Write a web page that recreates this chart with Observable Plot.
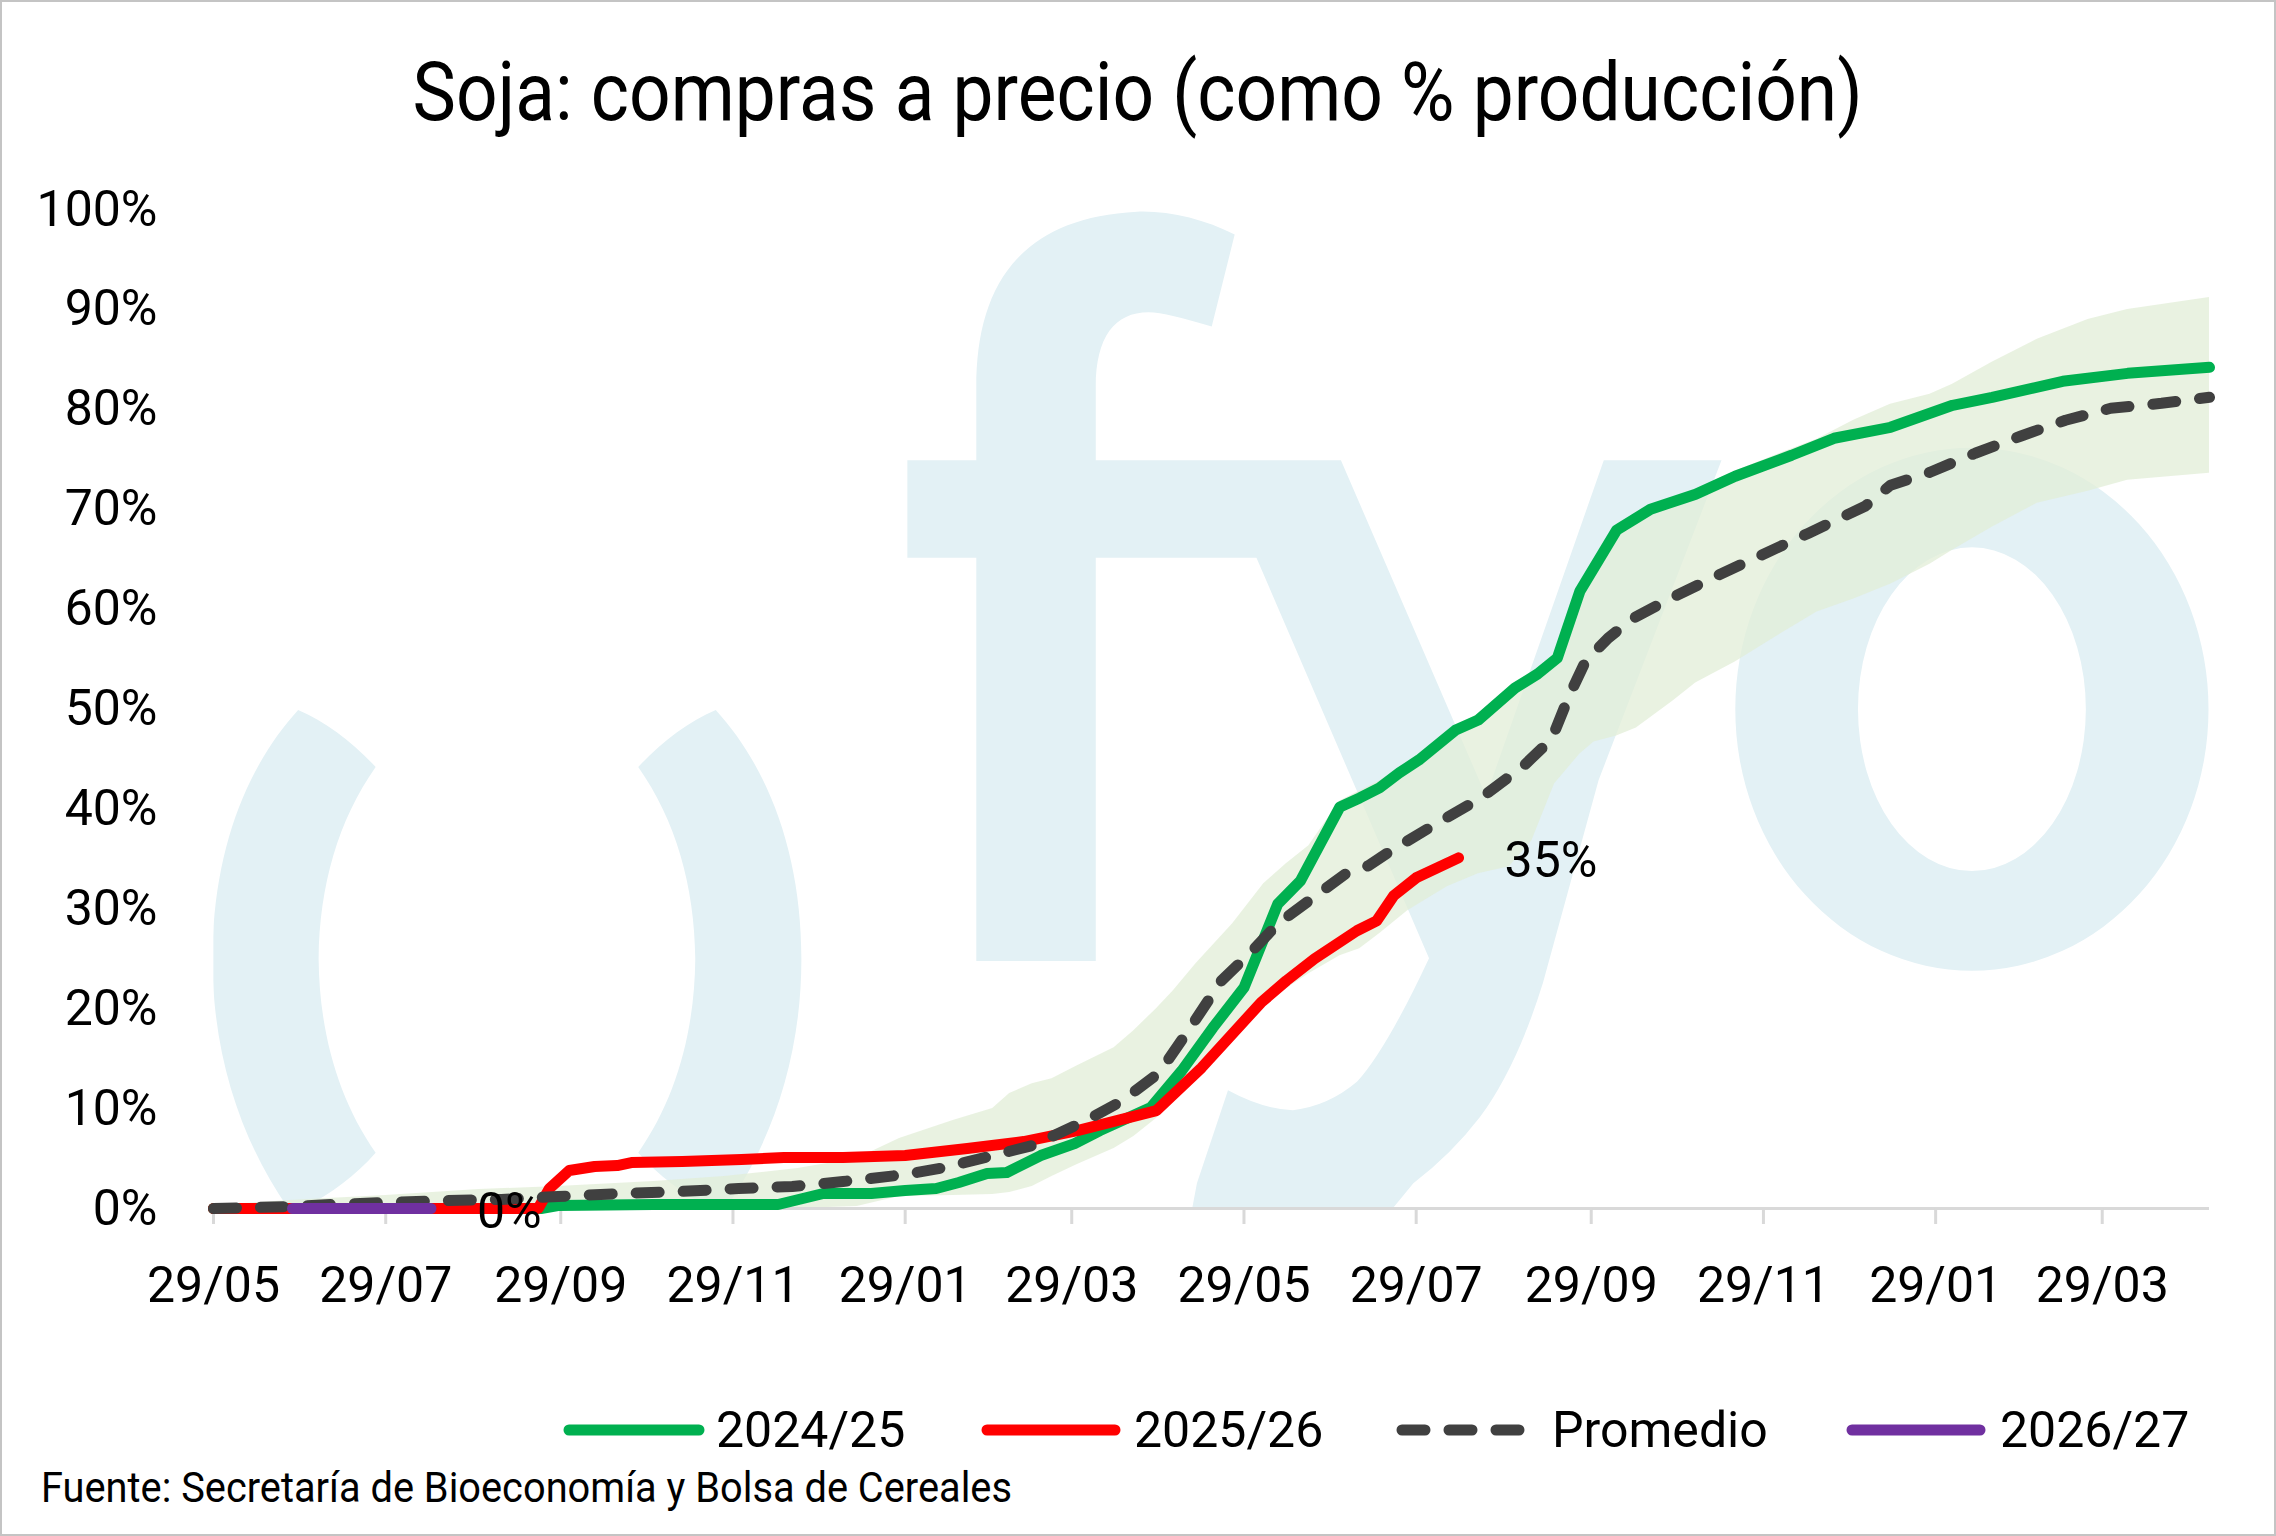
<!DOCTYPE html>
<html><head><meta charset="utf-8">
<script src="https://cdn.jsdelivr.net/npm/d3@7"></script>
<script src="https://cdn.jsdelivr.net/npm/@observablehq/plot@0.6"></script>
<style>
html,body{margin:0;padding:0;background:#fff;}
#frame{position:relative;width:2276px;height:1536px;overflow:hidden;background:#fff;font-family:Roboto,sans-serif;color:#000;}
#border{position:absolute;left:0;top:0;width:2276px;height:1536px;box-sizing:border-box;border:2px solid #c4c4c4;pointer-events:none;}
#wm{position:absolute;left:0;top:0;width:2276px;height:1536px;}
#title{position:absolute;left:0;top:51px;width:2276px;text-align:center;font-size:82px;line-height:82px;white-space:nowrap;}
#title span{display:inline-block;transform-origin:center center;}
#chart{position:absolute;left:0;top:150px;}
#legend{position:absolute;left:0;top:1400px;width:2276px;height:60px;}
.item{position:absolute;top:0;height:60px;display:flex;align-items:center;font-size:50px;line-height:60px;white-space:nowrap;}
.item svg{display:block;}
#caption{position:absolute;left:41px;top:1466px;font-size:43px;line-height:43px;white-space:nowrap;transform-origin:left center;}
</style></head><body>
<div id="frame">
  <svg id="wm" viewBox="0 0 1568 1058" preserveAspectRatio="none">
    <defs><clipPath id="pa"><rect x="147" y="0" width="1375" height="832"/></clipPath></defs>
    <g clip-path="url(#pa)" fill="#e3f1f5">
      <path d="M205.4,489 C224,497 243,511 258.8,528.3 C233,565 220,610 219.5,660.5 C220,711 233,757 258.8,794 C243,812 224,825 201.2,836 C168,790 146.4,730 146.4,660.5 C146.4,590 168,530 205.4,489 Z"/>
      <path d="M493.1,489 C474.5,497 455.5,511 439.7,528.3 C465.5,565 478.5,610 479,660.5 C478.5,711 465.5,757 439.7,794 C455.5,812 474.5,825 497.3,836 C530.5,790 552.1,730 552.1,660.5 C552.1,590 530.5,530 493.1,489 Z"/>
      <path d="M672.6,661.9 L672.6,266.4 C672.6,200 700,150 783.4,145.8 C805,145 830,151 850.6,161.6 L834.8,224.9 C815,219 800,215 791.3,215 C768,215 754.9,232 754.9,266.4 L754.9,661.9 Z"/>
      <path d="M625.1,317 L923.8,317 L1023.8,548.4 L1104.9,317 L1186,317 L1101.3,537.4 L1063,677 Q1045,735 1019.6,769.4 Q1000,795 973.7,815 L945,850 L818,850 L824.6,815 L846,751 Q870,764 890.7,764.7 Q915,762 935,745 Q955,723 984.5,660 L865.6,384.2 L625.1,384.2 Z"/>
      <path fill-rule="evenodd" d="M1195.5,488.5 A163,180 0 1,0 1521.5,488.5 A163,180 0 1,0 1195.5,488.5 Z M1280,488.5 A78.5,111.5 0 1,0 1437,488.5 A78.5,111.5 0 1,0 1280,488.5 Z"/>
    </g>
  </svg>
  <div id="title"><span id="titleText">Soja: compras a precio (como % producción)</span></div>
  <div id="chart"></div>
  <div id="legend"></div>
  <div id="caption">Fuente: Secretaría de Bioeconomía y Bolsa de Cereales</div>
  <div id="border"></div>
</div>
<script>
// ---------- Data ----------
const fechas2425 = ["2024-05-29","2024-09-22","2024-09-28","2024-11-01","2024-12-15","2024-12-31","2025-01-17","2025-01-29","2025-02-09","2025-02-17","2025-02-27","2025-03-06","2025-03-18","2025-03-30","2025-04-08","2025-04-26","2025-05-07","2025-05-18","2025-05-29","2025-06-10","2025-06-18","2025-07-02","2025-07-09","2025-07-16","2025-07-23","2025-07-30","2025-08-12","2025-08-20","2025-09-02","2025-09-10","2025-09-17","2025-09-25","2025-10-08","2025-10-20","2025-11-05","2025-11-19","2025-12-09","2025-12-24","2026-01-13","2026-02-04","2026-02-18","2026-03-15","2026-04-07","2026-05-06"];
const valores2425 = [0,0,0.3,0.4,0.4,1.5,1.5,1.8,2.0,2.6,3.5,3.6,5.3,6.5,7.8,10.1,13.8,18.1,22.1,30.5,32.8,40.2,41.1,42.1,43.6,44.9,47.9,48.9,52.1,53.5,55.1,61.8,67.9,70.0,71.5,73.3,75.4,77.1,78.2,80.4,81.2,82.8,83.6,84.2];

const fechas2526 = ["2024-05-29","2024-09-21","2024-09-25","2024-10-02","2024-10-11","2024-10-19","2024-10-24","2024-11-11","2024-12-02","2024-12-17","2025-01-07","2025-01-29","2025-02-20","2025-03-12","2025-03-31","2025-04-28","2025-05-14","2025-06-04","2025-06-13","2025-06-23","2025-07-08","2025-07-15","2025-07-21","2025-07-29","2025-08-13"];
const valores2526 = [0,0,2.0,3.8,4.2,4.3,4.6,4.7,4.9,5.1,5.1,5.3,6.0,6.7,7.8,9.8,14.1,20.6,22.8,25.0,27.8,28.8,31.3,33.1,35.1];

const fechasPromedio = ["2024-05-29","2024-06-25","2024-07-10","2024-07-29","2024-08-20","2024-09-08","2024-09-28","2024-10-20","2024-11-10","2024-12-01","2024-12-20","2025-01-07","2025-01-29","2025-02-12","2025-03-01","2025-03-15","2025-04-03","2025-04-16","2025-04-29","2025-05-10","2025-05-21","2025-06-01","2025-06-10","2025-06-21","2025-07-04","2025-07-12","2025-07-20","2025-08-05","2025-08-21","2025-09-05","2025-09-15","2025-09-21","2025-09-27","2025-10-05","2025-10-14","2025-10-28","2025-11-13","2025-11-29","2025-12-15","2026-01-04","2026-01-13","2026-01-27","2026-02-12","2026-02-28","2026-03-16","2026-04-01","2026-04-19","2026-05-06"];
const valoresPromedio = [0.0,0.2,0.4,0.6,0.8,0.9,1.2,1.5,1.7,2.0,2.2,2.7,3.4,4.1,5.3,6.3,8.8,10.8,13.6,18.1,22.8,25.8,28.5,30.8,33.5,34.3,35.8,38.5,41.1,44.3,47.0,51.2,54.8,57.1,59.1,61.2,63.4,65.5,67.6,70.3,72.4,73.7,75.6,77.3,78.9,80.1,80.6,81.2];

const fechas2627 = ["2024-06-26","2024-07-03","2024-07-10","2024-07-17","2024-07-24","2024-07-31","2024-08-07","2024-08-14"];
const valores2627 = [0,0,0,0,0,0,0,0];

const fechasRango = ["2024-05-29","2024-06-25","2024-07-29","2024-08-31","2024-09-28","2024-11-01","2024-11-26","2024-12-22","2025-01-12","2025-01-27","2025-02-15","2025-03-01","2025-03-07","2025-03-15","2025-03-22","2025-03-31","2025-04-13","2025-04-20","2025-04-28","2025-05-04","2025-05-12","2025-05-25","2025-06-05","2025-06-13","2025-06-21","2025-07-02","2025-07-09","2025-07-16","2025-07-26","2025-08-09","2025-08-20","2025-08-31","2025-09-08","2025-09-16","2025-09-25","2025-09-30","2025-10-08","2025-10-15","2025-10-28","2025-11-05","2025-11-19","2025-12-05","2025-12-18","2025-12-31","2026-01-13","2026-01-27","2026-02-04","2026-02-18","2026-03-06","2026-03-24","2026-04-07","2026-05-06"];
const rangoMin = [0,0,0,0,0,0,0,0,0.2,1.2,1.3,1.4,1.6,2.2,3.2,4.4,6.0,7.2,9.0,11.0,13.0,17.0,20.3,22.0,23.5,25.3,26.0,27.5,29.8,32.2,33.5,34.2,36.8,42.5,45.5,46.7,47.3,48.1,50.8,52.6,54.7,57.5,59.7,61.0,62.5,64.5,65.9,68.2,70.6,71.8,72.9,73.6];
const rangoMax = [0.3,0.8,1.3,1.9,2.2,2.7,3.2,4.0,5.0,7.0,8.8,10.0,11.5,12.5,13.0,14.3,16.1,17.8,20.0,21.8,24.5,28.5,32.5,34.5,36.3,40.8,41.8,42.8,44.6,47.8,49.5,52.0,53.6,55.5,62.5,65.0,68.5,69.6,71.0,72.0,73.8,75.6,77.0,78.9,80.5,81.5,82.5,84.7,87.0,89.0,90.0,91.2];

const tickFechas = ["2024-05-29","2024-07-29","2024-09-29","2024-11-29","2025-01-29","2025-03-29","2025-05-29","2025-07-29","2025-09-29","2025-11-29","2026-01-29","2026-03-29"];
const yTicks = [0,10,20,30,40,50,60,70,80,90,100];
const xInicio = "2024-05-29", xFin = "2026-05-06";

const series = [
  {name:"2024/25", fechas:fechas2425, valores:valores2425, color:"#00b050", dash:null},
  {name:"2025/26", fechas:fechas2526, valores:valores2526, color:"#ff0000", dash:null},
  {name:"Promedio", fechas:fechasPromedio, valores:valoresPromedio, color:"#404040", dash:"23,24"},
  {name:"2026/27", fechas:fechas2627, valores:valores2627, color:"#7030a0", dash:null}
];

// ---------- Build ----------
const parse = d3.utcParse("%Y-%m-%d");
const rows = s => s.fechas.map((f,i)=>({date:parse(f), value:s.valores[i], serie:s.name}));
const banda = fechasRango.map((f,i)=>({date:parse(f), lo:rangoMin[i], hi:rangoMax[i]}));

const lineMarks = series.map(s => Plot.line(rows(s), {
  x:"date", y:"value", stroke:s.color, strokeWidth:11,
  strokeLinecap:"round", strokeLinejoin:"round",
  ...(s.dash ? {strokeDasharray:s.dash} : {})
}));

const labelSeries = [series[1], series[3]];
const labelRows = labelSeries.map(s => {
  const r = rows(s); const last = r[r.length-1];
  return {...last, label: Math.round(last.value) + "%"};
});

const chart = Plot.plot({
  width:2276, height:1180,
  marginLeft:213, marginRight:67, marginTop:59, marginBottom:122,
  style:{background:"transparent", fontFamily:"Roboto, sans-serif", fontSize:"50px", color:"#000", overflow:"visible"},
  x:{type:"utc", domain:[parse(xInicio), parse(xFin)]},
  y:{domain:[0,100]},
  marks:[
    Plot.areaY(banda, {x:"date", y1:"lo", y2:"hi", fill:"rgb(226,238,215)", fillOpacity:0.75}),
    Plot.ruleY([0], {stroke:"#d9d9d9", strokeWidth:3}),
    Plot.axisX({ticks:tickFechas.map(parse), tickFormat:d3.utcFormat("%d/%m"), tickSize:16, tickPadding:42, stroke:"#d9d9d9", strokeWidth:3, fill:"#000", fontSize:50, label:null}),
    Plot.axisY({ticks:yTicks, tickFormat:d=>d+"%", tickSize:0, tickPadding:56, fill:"#000", fontSize:50, label:null}),
    ...lineMarks,
    Plot.text(labelRows, {x:"date", y:"value", text:"label", dx:46, dy:3, textAnchor:"start", fill:"#000", fontSize:50})
  ]
});
document.getElementById("chart").appendChild(chart);

// ---------- Legend ----------
const legend = document.getElementById("legend");
const lefts = [563, 981, 1396, 1846];
const swW = [142, 140, 131, 140];
const gaps = [11, 13, 25, 14];
series.forEach((s,i)=>{
  const it = document.createElement("div");
  it.className = "item"; it.style.left = lefts[i] + "px";
  const w = swW[i];
  const ns = "http://www.w3.org/2000/svg";
  const sv = document.createElementNS(ns, "svg");
  sv.setAttribute("width", w); sv.setAttribute("height", 30);
  const ln = document.createElementNS(ns, "line");
  ln.setAttribute("x1", 6); ln.setAttribute("x2", w-6);
  ln.setAttribute("y1", 15); ln.setAttribute("y2", 15);
  ln.setAttribute("stroke", s.color); ln.setAttribute("stroke-width", 11);
  ln.setAttribute("stroke-linecap", "round");
  if (s.dash) ln.setAttribute("stroke-dasharray", s.dash);
  sv.appendChild(ln);
  const tx = document.createElement("span");
  tx.textContent = s.name; tx.style.marginLeft = gaps[i] + "px";
  it.appendChild(sv); it.appendChild(tx);
  legend.appendChild(it);
});

// ---------- Fit title and caption widths ----------
function fitWidth(el, target){
  const w = el.getBoundingClientRect().width;
  if (w > 0) el.style.transform = "scaleX(" + (target / w) + ")";
}
fitWidth(document.getElementById("titleText"), 1450);
const cap = document.getElementById("caption");
cap.style.display = "inline-block";
fitWidth(cap, 971);
</script>
</body></html>
